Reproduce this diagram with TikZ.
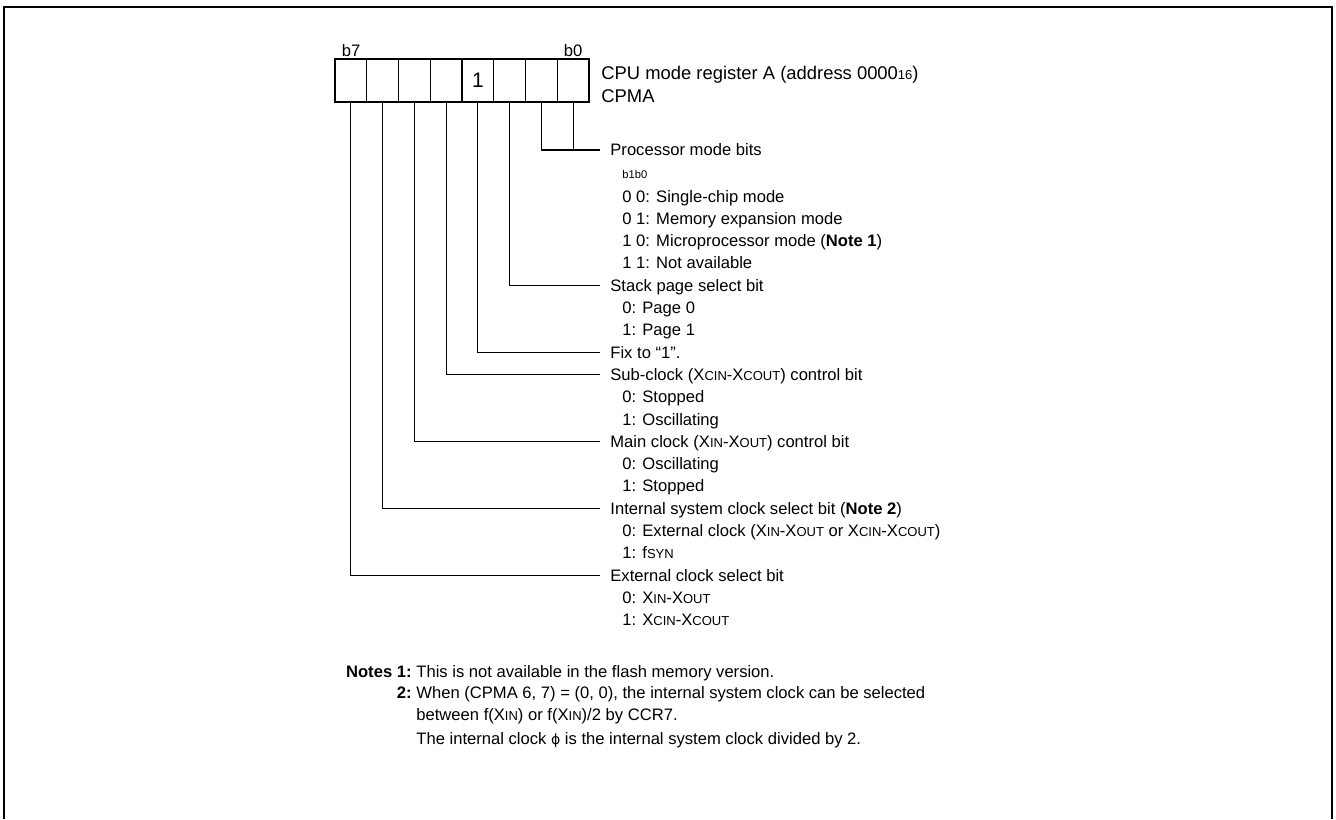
\documentclass[tikz,border=0pt]{standalone}
\usepackage{fontspec}
\setmainfont{Liberation Sans}
\newfontfamily\symfnt{DejaVu Sans}
\newcommand{\smc}[1]{{\fontsize{6.5pt}{6.5pt}\selectfont #1}}

\begin{document}
\begin{tikzpicture}[x=0.5pt, y=-0.5pt, every node/.style={font=\fontsize{8.3pt}{10pt}\selectfont},
	cell/.style={draw, line width=0.6pt, minimum width=15.875pt, minimum height=21.5pt, inner sep=0pt},
	lbl/.style={anchor=west, inner xsep=5pt, inner ysep=0pt, text height=7pt, text depth=1.06pt},
	opt/.style={anchor=base west, inner sep=0pt},
	wire/.style={line width=0.6pt}]
	\useasboundingbox (0,0) rectangle (1336,819);
	\draw[line width=1.2pt] (4,819) -- (4,7) -- (1332,7) -- (1332,819);
	% register cells, b7 on the left
	\foreach \i in {0,...,7}
		\node[cell] (c\i) at ({335+(7-\i+0.5)*31.75}, 80.5) {};
	\node[font=\fontsize{10.5pt}{12pt}\selectfont] (one) at (c3) {1};
	\node[anchor=base] (t7) at (351,56) {b7};
	\node[anchor=base] (t0) at (573,56) {b0};
	\node[anchor=base west, inner sep=0pt, font=\fontsize{9.2pt}{11pt}\selectfont] (title) at (601,79) {CPU mode register A (address 0000\smc{16})};
	\node[anchor=base west, inner sep=0pt, font=\fontsize{9.2pt}{11pt}\selectfont] (cpma) at (601,102) {CPMA};
	% bit descriptions
	\node[lbl] (proc) at (600,150) {Processor mode bits};
	\node[opt, font=\fontsize{5.6pt}{6pt}\selectfont] (b1b0) at (622,178) {b1b0};
	\node[opt] (m00) at (622,202) {0 0: Single-chip mode};
	\node[opt] (m01) at (622,224.3) {0 1: Memory expansion mode};
	\node[opt] (m10) at (622,246.6) {1 0: Microprocessor mode (\textbf{Note 1})};
	\node[opt] (m11) at (622,268.9) {1 1: Not available};
	\node[lbl] (stack) at (600,285.2) {Stack page select bit};
	\node[opt] (s0) at (622,313.5) {0: Page 0};
	\node[opt] (s1) at (622,335.8) {1: Page 1};
	\node[lbl] (fix) at (600,352.1) {Fix to “1”.};
	\node[lbl] (subclk) at (600,374.4) {Sub-clock (X\smc{CIN}-X\smc{COUT}) control bit};
	\node[opt] (sc0) at (622,402.7) {0: Stopped};
	\node[opt] (sc1) at (622,425) {1: Oscillating};
	\node[lbl] (mainclk) at (600,441.3) {Main clock (X\smc{IN}-X\smc{OUT}) control bit};
	\node[opt] (mc0) at (622,469.6) {0: Oscillating};
	\node[opt] (mc1) at (622,491.9) {1: Stopped};
	\node[lbl] (sysclk) at (600,508.2) {Internal system clock select bit (\textbf{Note 2})};
	\node[opt] (sy0) at (622,536.5) {0: External clock (X\smc{IN}-X\smc{OUT} or X\smc{CIN}-X\smc{COUT})};
	\node[opt] (sy1) at (622,558.8) {1: f\smc{SYN}};
	\node[lbl] (extclk) at (600,575.1) {External clock select bit};
	\node[opt] (ex0) at (622,603.4) {0: X\smc{IN}-X\smc{OUT}};
	\node[opt] (ex1) at (622,625.7) {1: X\smc{CIN}-X\smc{COUT}};
	% leader lines
	\draw[wire] (c1.south) |- (proc.west);
	\draw[wire] (c0.south) -- (c0.south |- proc.west);
	\draw[wire] (c2.south) |- (stack.west);
	\draw[wire] (c3.south) |- (fix.west);
	\draw[wire] (c4.south) |- (subclk.west);
	\draw[wire] (c5.south) |- (mainclk.west);
	\draw[wire] (c6.south) |- (sysclk.west);
	\draw[wire] (c7.south) |- (extclk.west);
	% notes
	\node[anchor=base east, inner sep=0pt] (n1) at (412,677) {\textbf{Notes 1:}};
	\node[opt] (n1t) at (416,677) {This is not available in the flash memory version.};
	\node[anchor=base east, inner sep=0pt] (n2) at (412,698.5) {\textbf{2:}};
	\node[opt] (n2t) at (416,698.5) {When (CPMA 6, 7) = (0, 0), the internal system clock can be selected};
	\node[opt] (n2u) at (416,720) {between f(X\smc{IN}) or f(X\smc{IN})/2 by CCR7.};
	\node[opt] (n3) at (416,744) {The internal clock {\symfnt\fontsize{7pt}{7pt}\selectfont ϕ} is the internal system clock divided by 2.};
\end{tikzpicture}
\end{document}
